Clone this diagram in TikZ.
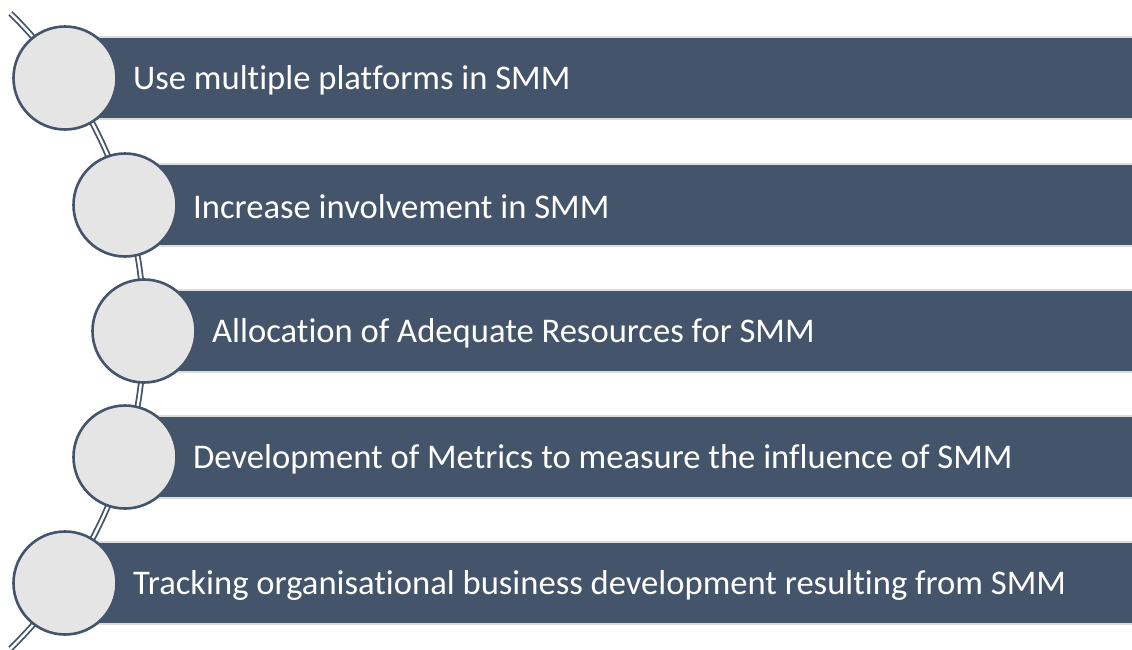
\documentclass[tikz,border=0pt]{standalone}
\usepackage{fontspec}
\setmainfont{Carlito}[Ligatures=NoCommon]
\definecolor{slate}{HTML}{44546A}
\definecolor{disc}{HTML}{E5E5E5}
\definecolor{rim}{HTML}{DCDCDC}
\begin{document}
\begin{tikzpicture}[x=1pt,y=-1pt,
  spine/.style={draw=slate,line width=1.8pt,double=white,double distance=2.4pt},
  bar/.style={fill=slate,draw=rim,line width=1.5pt},
  bead/.style={circle,minimum size=103pt,inner sep=0pt,fill=disc,draw=slate,line width=2.6pt},
  label/.style={anchor=west,text=white,font=\fontsize{34.6}{40}\selectfont,inner sep=0pt}]
\useasboundingbox (0,0) rectangle (1132,649);
% curved spine behind the beads
\coordinate (arcc) at (-300.6,331);
\draw[spine] ([shift={(-45.6:444.6)}]arcc) arc[start angle=-45.6,end angle=45.6,radius=444.6];
% bars
\foreach \cx/\cy in {65/78,125/205,144/331,125/457,65/583}{
  \fill[bar] (\cx,\cy-41) rectangle (1140,\cy+41);
}
% beads and labels
\node[bead] (b1) at (65,78) {};
\node[bead] (b2) at (125,205) {};
\node[bead] (b3) at (144,331) {};
\node[bead] (b4) at (125,457) {};
\node[bead] (b5) at (65,583) {};
\node[label] (t1) at (133,80) {Use multiple platforms in SMM};
\node[label] (t2) at (193,207) {Increase involvement in SMM};
\node[label] (t3) at (212,333) {Allocation of Adequate Resources for SMM};
\node[label] (t4) at (193,459) {Development of Metrics to measure the influence of SMM};
\node[label] (t5) at (133,585) {Tracking organisational business development resulting from SMM};
\end{tikzpicture}
\end{document}
